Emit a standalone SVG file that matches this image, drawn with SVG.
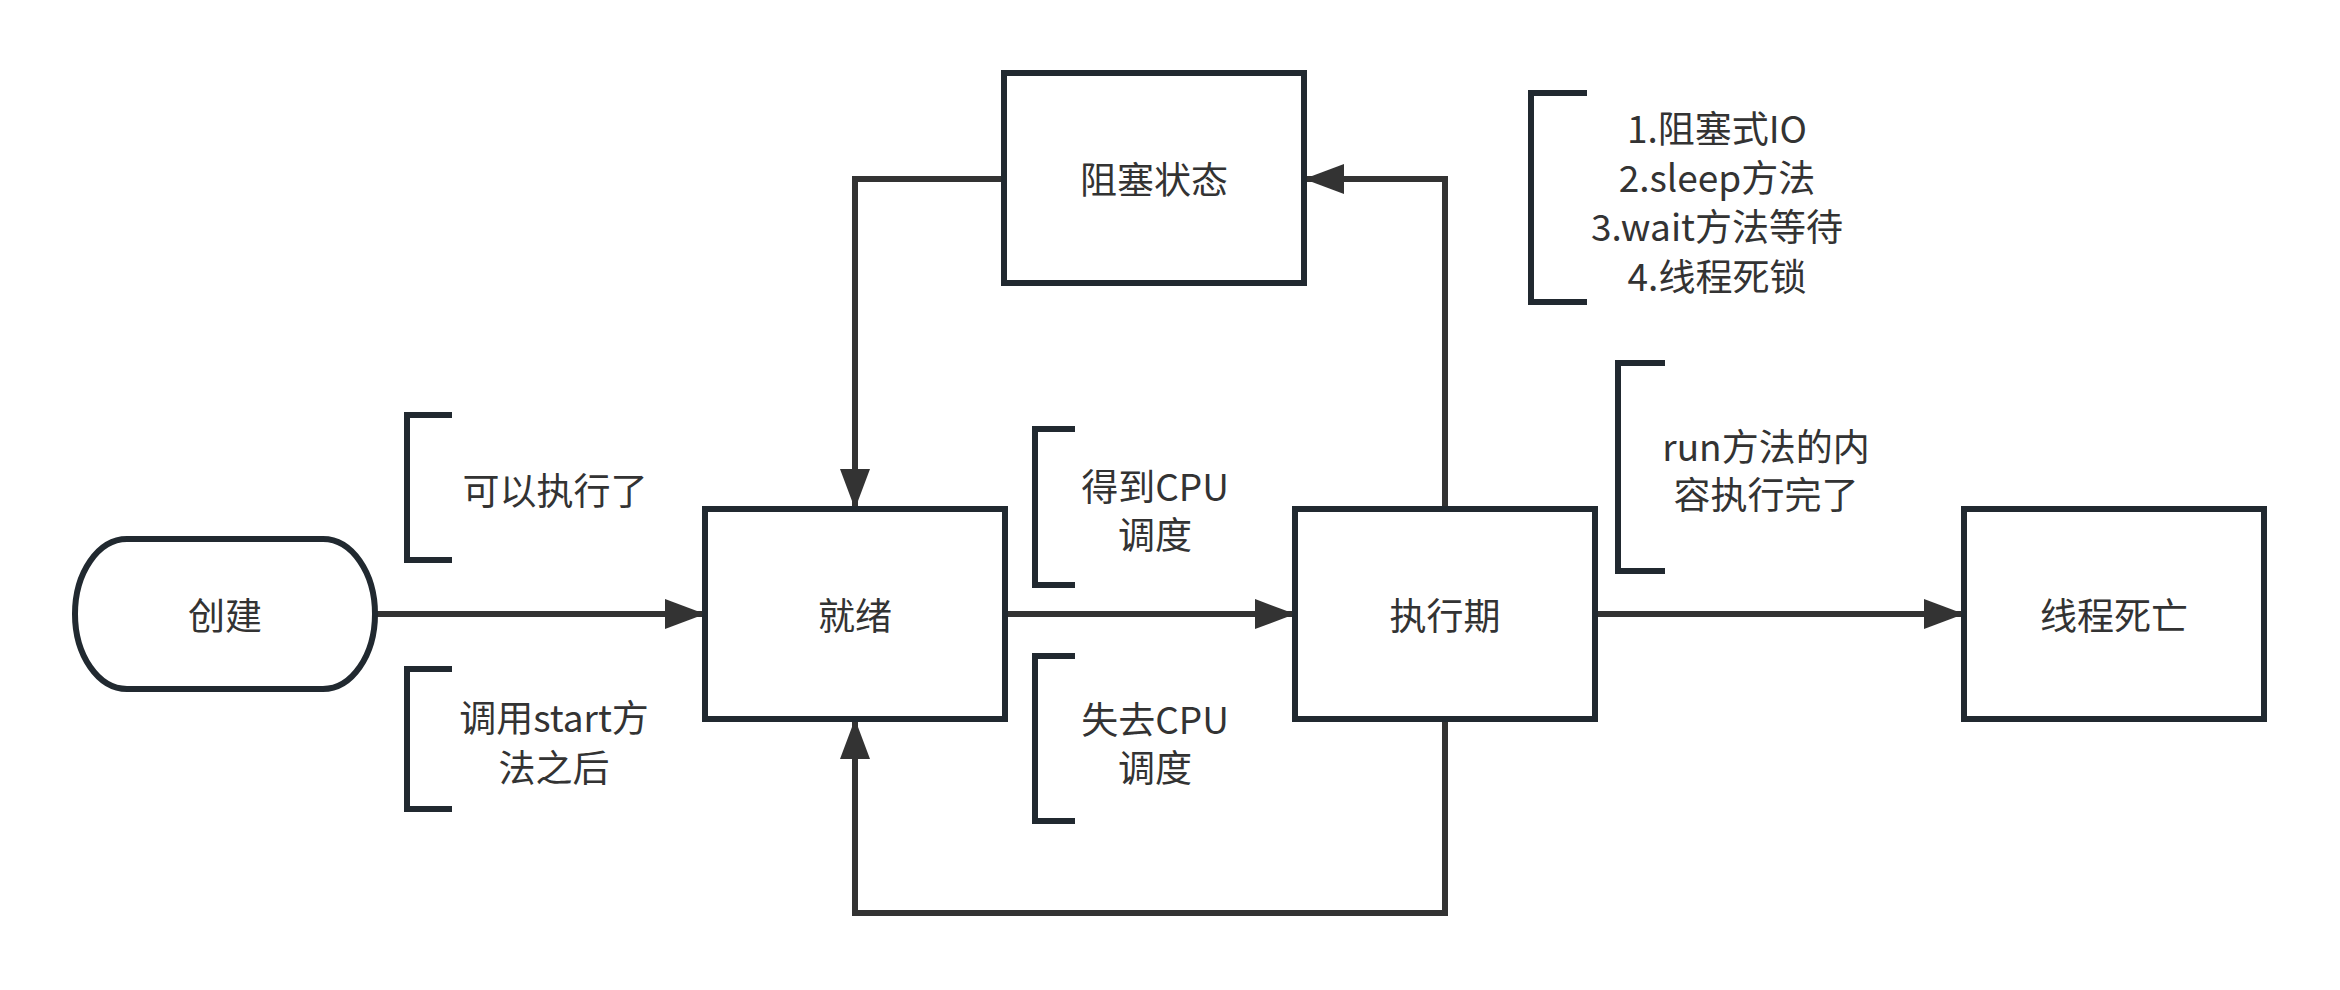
<svg xmlns="http://www.w3.org/2000/svg" width="2340" height="990" viewBox="0 0 2340 990">
<style>
.box{fill:#fff;stroke:#212930;stroke-width:6}
.br{fill:none;stroke:#212930;stroke-width:6}
.ln{fill:none;stroke:#333;stroke-width:6}
text{font-family:"Noto Sans CJK SC","Noto Sans",sans-serif;font-size:37px;fill:#333;text-anchor:middle;dominant-baseline:central}
</style>
<defs>
<marker id="ah" markerUnits="userSpaceOnUse" markerWidth="40" markerHeight="30" refX="40" refY="15" orient="auto">
<path d="M0,0 L40,15 L0,30 z" fill="#333"/>
</marker>
</defs>
<rect width="2340" height="990" fill="#fff"/>
<g id="connectors">
<path class="ln" d="M375,614 H705" marker-end="url(#ah)"/>
<path class="ln" d="M1004,614 H1295" marker-end="url(#ah)"/>
<path class="ln" d="M1595,614 H1964" marker-end="url(#ah)"/>
<path class="ln" d="M1004,179 H855 V509" marker-end="url(#ah)"/>
<path class="ln" d="M1445,509 V179 H1304" marker-end="url(#ah)"/>
<path class="ln" d="M1445,719 V913 H855 V719" marker-end="url(#ah)"/>
</g>
<g id="create"><rect class="box" x="75" y="539" width="300" height="150" rx="52" ry="75"/><text x="225" y="614">创建</text></g>
<g id="ready"><rect class="box" x="705" y="509" width="300" height="210" fill-opacity="0"/><text x="855" y="614">就绪</text></g>
<g id="running"><rect class="box" x="1295" y="509" width="300" height="210" fill-opacity="0"/><text x="1445" y="614">执行期</text></g>
<g id="dead"><rect class="box" x="1964" y="509" width="300" height="210" fill-opacity="0"/><text x="2114" y="614">线程死亡</text></g>
<g id="blocked"><rect class="box" x="1004" y="73" width="300" height="210" fill-opacity="0"/><text x="1154" y="178">阻塞状态</text></g>
<g id="note1"><path class="br" d="M452,415 H407 V560 H452"/><text x="555" y="489">可以执行了</text></g>
<g id="note2"><path class="br" d="M452,669 H407 V809 H452"/><text x="554" y="716">调用start方</text><text x="554" y="766">法之后</text></g>
<g id="note3"><path class="br" d="M1075,429 H1035 V585 H1075"/><text x="1155" y="485">得到CPU</text><text x="1155" y="533">调度</text></g>
<g id="note4"><path class="br" d="M1075,656 H1035 V821 H1075"/><text x="1155" y="718">失去CPU</text><text x="1155" y="766">调度</text></g>
<g id="note5"><path class="br" d="M1587,93 H1531 V302 H1587"/><text x="1717" y="127">1.阻塞式IO</text><text x="1717" y="176">2.sleep方法</text><text x="1717" y="225">3.wait方法等待</text><text x="1717" y="275">4.线程死锁</text></g>
<g id="note6"><path class="br" d="M1665,363 H1618 V571 H1665"/><text x="1766" y="445">run方法的内</text><text x="1766" y="493">容执行完了</text></g>
</svg>
